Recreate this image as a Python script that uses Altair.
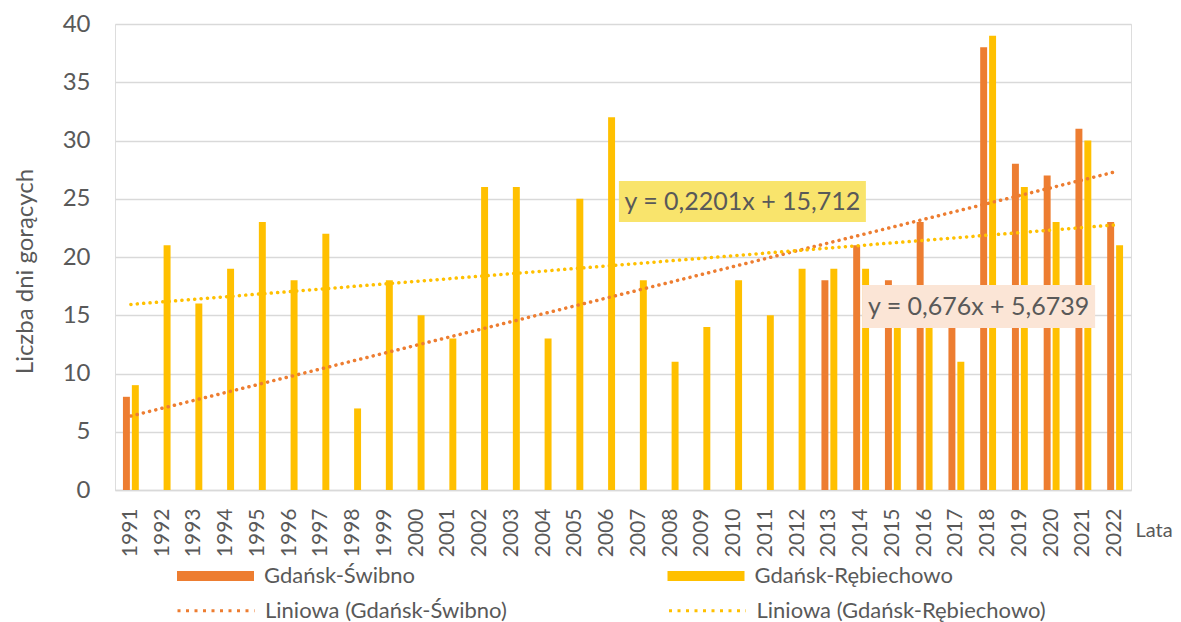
import altair as alt
import pandas as pd

# ---- data ----
years = list(range(1991, 2023))
swibno = [8] + [None] * 21 + [18, 21, 18, 23, 14, 38, 28, 27, 31, 23]
rebiechowo = [9, 21, 16, 19, 23, 18, 22, 7, 18, 15,
              13, 26, 26, 13, 25, 32, 18, 11, 14, 18,
              15, 19, 19, 19, 17, 16, 11, 39, 26, 23,
              30, 21]
stations = ["Gdańsk-Świbno", "Gdańsk-Rębiechowo"]
trend_names = ["Liniowa (Gdańsk-Świbno)", "Liniowa (Gdańsk-Rębiechowo)"]
y_ticks = [0, 5, 10, 15, 20, 25, 30, 35, 40]

# trendline equation labels (text) and their anchor in data units
eq_labels = ["y = 0,2201x + 15,712", "y = 0,676x + 5,6739"]
eq_x = [20.26, 27.70]
eq_y = [24.76, 15.75]
eq_x1 = [16.37, 24.03]
eq_x2 = [24.15, 31.37]
eq_y1 = [23.0, 13.9]
eq_y2 = [26.52, 17.6]
eq_fill = ["#F9E46C", "#FBE5D6"]

ORANGE = "#ED7D31"
YELLOW = "#FFC000"
GREY = "#595959"
FONT = "Lato"

rows = []
for i, yr in enumerate(years):
    for st, series in zip(stations, [swibno, rebiechowo]):
        v = series[i]
        if v is not None:
            rows.append({"year": yr, "idx": i + 1, "station": st, "value": v})
df = pd.DataFrame(rows)

ann = pd.DataFrame({"label": eq_labels, "x": eq_x, "y": eq_y,
                    "x1": eq_x1, "x2": eq_x2, "y1": eq_y1, "y2": eq_y2,
                    "fill": eq_fill})

y_enc = alt.Y("value:Q", scale=alt.Scale(domain=[0, 40], nice=False),
              axis=alt.Axis(values=y_ticks, grid=True, gridColor="#D9D9D9",
                            gridWidth=1.5, domain=False, ticks=False,
                            labelFontSize=24, labelPadding=25, labelColor=GREY,
                            labelFont=FONT,
                            title="Liczba dni gorących", titleFontSize=24,
                            titleFontWeight="normal", titleColor=GREY,
                            titleFont=FONT, titlePadding=25, titleY=247))

bars = alt.Chart(df).mark_bar().encode(
    x=alt.X("year:O", scale=alt.Scale(paddingInner=0.5, paddingOuter=0.25),
            axis=alt.Axis(labelAngle=-90, labelFontSize=21, labelPadding=18,
                          labelColor=GREY, labelFont=FONT, ticks=False,
                          domain=True, domainColor="#D9D9D9", domainWidth=1.5,
                          grid=False,
                          title="Lata", titleAngle=0, titleX=1020, titleY=40,
                          titleAlign="left", titleBaseline="middle",
                          titleFontSize=20, titleFontWeight="normal",
                          titleColor=GREY, titleFont=FONT)),
    xOffset=alt.XOffset("station:N", scale=alt.Scale(domain=stations, paddingInner=0.22)),
    y=y_enc,
    color=alt.Color("station:N",
                    scale=alt.Scale(domain=stations, range=[ORANGE, YELLOW]),
                    legend=alt.Legend(title=None, orient="none", legendX=89.5, legendY=541,
                                      direction="horizontal", columns=2,
                                      columnPadding=251.5,
                                      symbolType="M-3.85,-0.5H3.85V0.5H-3.85Z",
                                      symbolSize=400, symbolStrokeWidth=0,
                                      labelFontSize=22, labelColor=GREY,
                                      labelFont=FONT, labelOffset=37.5,
                                      labelLimit=400)),
)

qx = alt.Scale(domain=[0.5, 32.5], nice=False, zero=False)

lines = alt.Chart(df).transform_regression(
    "idx", "value", groupby=["station"]
).transform_calculate(
    trend="'Liniowa (' + datum.station + ')'"
).mark_line(strokeWidth=3.5, strokeDash=[0.1, 6.3], strokeCap="round").encode(
    x=alt.X("idx:Q", scale=qx, axis=None),
    y=alt.Y("value:Q"),
    color=alt.Color("trend:N",
                    scale=alt.Scale(domain=trend_names, range=[ORANGE, YELLOW]),
                    legend=alt.Legend(title=None, orient="none", legendX=89.5, legendY=575,
                                      direction="horizontal", columns=2,
                                      columnPadding=155.5,
                                      symbolType="M-3.85,0H3.85", symbolSize=400,
                                      symbolDash=[3, 5.5], symbolStrokeWidth=3,
                                      labelFontSize=22, labelColor=GREY,
                                      labelFont=FONT, labelOffset=37.5,
                                      labelLimit=400)),
)

boxes = alt.Chart(ann).mark_rect().encode(
    x=alt.X("x1:Q", scale=qx, axis=None),
    x2="x2:Q",
    y=alt.Y("y1:Q"),
    y2="y2:Q",
    fill=alt.Fill("fill:N", scale=None),
)

texts = alt.Chart(ann).mark_text(font=FONT, fontSize=25, color=GREY,
                                 align="center", baseline="middle").encode(
    x=alt.X("x:Q", scale=qx, axis=None),
    y=alt.Y("y:Q"),
    text="label:N",
)

chart = alt.layer(bars, lines, boxes, texts).resolve_scale(
    x="independent", color="independent"
).properties(
    width=1016, height=466,
    autosize=alt.AutoSizeParams(type="none"),
    padding={"left": 107, "top": 16, "right": 42, "bottom": 140},
).configure_view(strokeWidth=0, stroke="transparent").configure(
    background="white"
)

chart.save("out.html", embed_options={"renderer": "svg", "actions": False})
